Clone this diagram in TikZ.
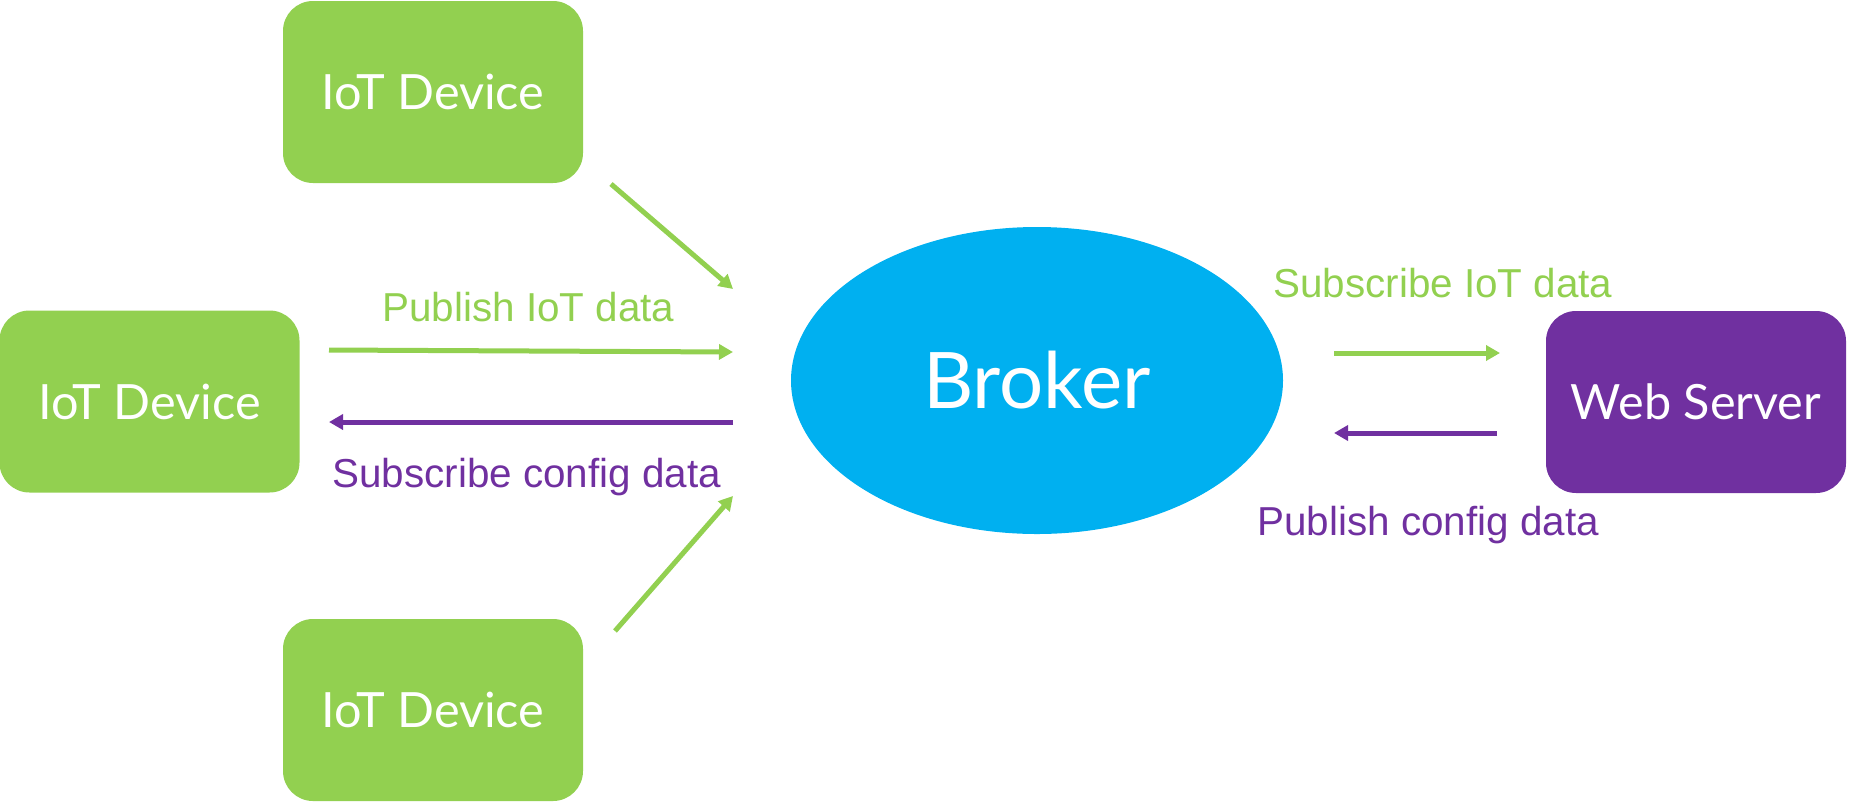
\documentclass[tikz,border=0pt]{standalone}
\usepackage{fontspec}
\setmainfont{Liberation Sans}
\newfontfamily\boxfont{Lato}
\usetikzlibrary{arrows.meta,shapes.geometric}
\definecolor{iotgreen}{HTML}{92D050}
\definecolor{brokerblue}{HTML}{00B0F0}
\definecolor{webpurple}{HTML}{7030A0}
\tikzset{
  devbox/.style={rounded corners=15pt, minimum width=150pt, minimum height=91pt, inner sep=0pt, fill=iotgreen, text=white, font=\boxfont\fontsize{24.3}{29}\selectfont},
  srvbox/.style={devbox, fill=webpurple},
  brokershape/.style={ellipse, fill=brokerblue, minimum width=246pt, minimum height=153.5pt, inner sep=0pt, text=white, font=\boxfont\fontsize{39}{46}\selectfont},
  conn/.style={line width=2.5pt, -{Triangle[length=7pt,width=7.5pt]}},
  lbl/.style={font=\fontsize{20.2}{24}\selectfont, inner sep=0pt, anchor=base west}
}
\begin{document}
\begin{tikzpicture}[x=0.5pt,y=-0.5pt]
\useasboundingbox (0,0) rectangle (1852,804);
\node[devbox] (top) at (433,92) {IoT Device};
\node[devbox] (mid) at (149.5,401.5) {IoT Device};
\node[devbox] (bot) at (433,710) {IoT Device};
\node[srvbox] (web) at (1696,402) {Web Server};
\node[brokershape] (broker) at (1037,380.5) {Broker};
\coordinate (a1s) at (611,184); \coordinate (a1e) at (733,289);
\coordinate (a2s) at (329,350); \coordinate (a2e) at (733,352);
\coordinate (a3s) at (733,422); \coordinate (a3e) at (329,422);
\coordinate (a4s) at (615,631); \coordinate (a4e) at (733,496);
\coordinate (a5s) at (1334,353); \coordinate (a5e) at (1500,353);
\coordinate (a6s) at (1497,433); \coordinate (a6e) at (1334,433);
\draw[conn, iotgreen] (a1s) -- (a1e);
\draw[conn, iotgreen] (a2s) -- (a2e);
\draw[conn, webpurple] (a3s) -- (a3e);
\draw[conn, iotgreen] (a4s) -- (a4e);
\draw[conn, iotgreen] (a5s) -- (a5e);
\draw[conn, webpurple] (a6s) -- (a6e);
\node[lbl, text=iotgreen] (l1) at (382,321) {Publish IoT data};
\node[lbl, text=webpurple] (l2) at (332,487) {Subscribe config data};
\node[lbl, text=iotgreen] (l3) at (1273,297) {Subscribe IoT data};
\node[lbl, text=webpurple] (l4) at (1257,535) {Publish config data};
\end{tikzpicture}
\end{document}
